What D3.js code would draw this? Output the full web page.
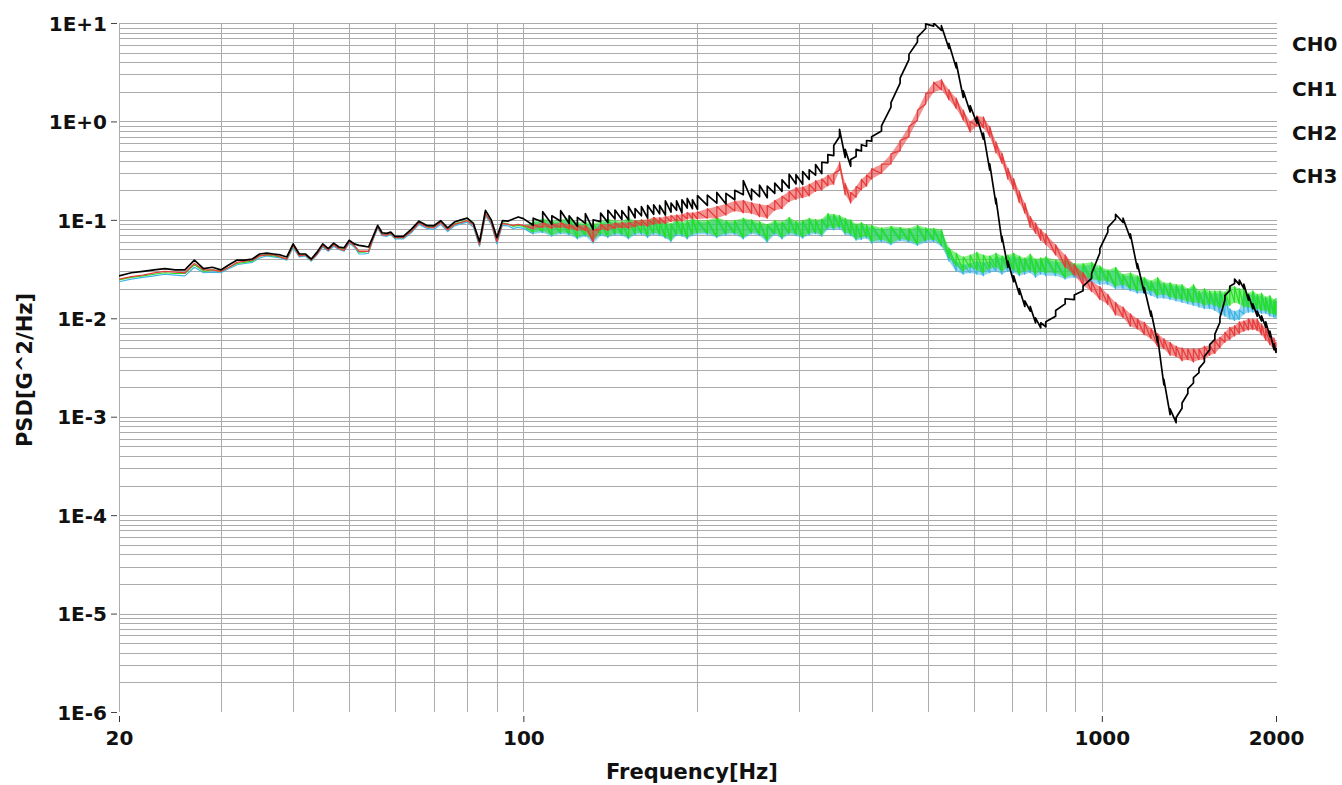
<!DOCTYPE html>
<html>
<head>
<meta charset="utf-8">
<script src="https://cdn.jsdelivr.net/npm/d3@7"></script>
<style>
  html, body { margin: 0; padding: 0; background: #ffffff; }
  svg { display: block; }
  text { font-family: "DejaVu Sans", Verdana, sans-serif; font-weight: bold; fill: #111; }
</style>
</head>
<body>
<svg id="chart" width="1342" height="785"></svg>
<script>
// Frequency bins [Hz] shared by all four channels
const freq = [
  20,21,22,23,24,25,26,27,28,29,30,31,32,33,34,35,36,37,38,39,40,41,42,43,44,45,46,47,48,49,50,51,52,53,54,55,56,57,58,59,60,
  62,64,66,68,70,72,74,76,78,80,82,84,86,88,90,92,94,96,98,100,
  104,108,112,116,120,124,128,132,136,140,144,148,152,156,160,164,168,172,176,180,184,188,192,196,200,
  208,216,224,232,240,248,256,264,272,280,288,296,304,312,320,328,336,344,352,360,368,376,384,392,400,
  416,432,448,464,480,496,512,528,544,560,576,592,608,624,640,656,672,688,704,720,736,752,768,784,800,
  832,864,896,928,960,992,1024,1056,1088,1120,1152,1184,1216,1248,1280,1312,1344,1376,1408,1440,1472,1504,1536,1568,1600,
  1632,1664,1696,1728,1760,1792,1824,1856,1888,1920,1952,1984,2000
];

// PSD [G^2/Hz] per bin: minimum and maximum of each channel within the bin
const ch0Lo = [
  .027,.029,.030,.031,.032,.031,.031,.039,.032,.033,.031,.035,.039,.039,.040,.045,.046,.045,.044,.042,.057,.045,.045,.040,.047,.057,.051,.058,.053,.052,.062,.057,.055,.054,.053,.068,.088,.074,.073,.075,.068,
  .068,.080,.097,.088,.087,.098,.083,.095,.100,.104,.092,.060,.125,.100,.066,.098,.097,.102,.107,.103,
  .088,.095,.090,.097,.092,.086,.092,.080,.096,.094,.102,.101,.100,.105,.110,.104,.114,.115,.112,.120,.125,.118,.132,.130,.128,
  .140,.148,.145,.160,.180,.160,.172,.168,.186,.195,.210,.232,.230,.258,.285,.295,.380,.450,.700,.430,.350,.440,.500,.560,.630,
  .80,1.40,2.45,4.25,6.40,8.80,9.30,8.40,5.50,3.50,1.75,1.25,.96,.66,.32,.145,.060,.033,.0235,.0175,.0132,.0118,.0090,.0080,.0082,
  .0105,.0140,.0155,.0190,.0255,.046,.075,.102,.094,.065,.032,.0182,.0105,.0057,.0021,.00105,.00087,.00122,.00172,.0022,.0028,.0036,.0048,.0061,.0091,
  .0153,.0192,.0225,.0220,.0200,.0153,.0125,.0105,.0094,.0081,.0065,.0048,.0045
];
const ch0Hi = [
  .027,.029,.030,.031,.032,.031,.031,.039,.032,.033,.031,.035,.039,.039,.040,.045,.046,.045,.044,.042,.057,.045,.045,.040,.047,.057,.051,.058,.053,.052,.062,.057,.055,.054,.053,.068,.088,.074,.073,.075,.068,
  .068,.080,.097,.088,.087,.098,.083,.095,.100,.104,.092,.060,.125,.100,.066,.098,.097,.102,.107,.103,
  .104,.121,.110,.124,.110,.106,.116,.100,.117,.125,.126,.124,.136,.130,.136,.140,.142,.140,.156,.148,.156,.160,.165,.160,.176,
  .178,.190,.186,.200,.250,.205,.225,.220,.236,.255,.290,.288,.310,.322,.365,.385,.460,.570,.830,.520,.410,.520,.580,.640,.700,
  .90,1.55,2.75,4.80,7.20,9.80,10.0,9.40,6.20,3.95,2.05,1.45,1.10,.76,.37,.165,.068,.038,.027,.020,.0150,.0132,.0101,.0090,.0092,
  .0120,.0158,.0172,.0212,.0285,.051,.084,.114,.104,.072,.036,.0204,.0118,.0065,.0024,.0012,.00098,.00138,.00192,.0025,.0031,.0041,.0054,.0069,.0102,
  .0170,.0212,.0250,.0245,.0222,.0172,.0140,.0118,.0106,.0092,.0074,.0055,.0050
];
const ch1Lo = [
  .025,.0265,.0275,.029,.030,.0295,.029,.036,.031,.031,.030,.033,.037,.038,.039,.043,.044,.044,.042,.040,.055,.043,.044,.039,.045,.055,.049,.056,.051,.049,.060,.055,.048,.048,.048,.065,.085,.071,.070,.073,.066,
  .066,.076,.093,.085,.083,.094,.079,.090,.094,.098,.088,.056,.115,.094,.060,.092,.090,.088,.090,.088,
  .081,.084,.082,.084,.081,.078,.078,.060,.080,.078,.082,.083,.082,.085,.088,.086,.090,.092,.092,.096,.097,.097,.102,.103,.102,
  .104,.104,.112,.123,.118,.116,.108,.104,.125,.130,.153,.162,.168,.175,.195,.200,.222,.230,.320,.180,.148,.170,.202,.220,.260,
  .296,.370,.505,.700,1.03,1.50,1.98,2.10,1.66,1.35,1.03,.78,.90,.86,.70,.48,.375,.26,.205,.150,.117,.084,.073,.062,.056,
  .044,.033,.0275,.0215,.0187,.0155,.0138,.0108,.0102,.0083,.0078,.0068,.0062,.0052,.0049,.0042,.0041,.0037,.0038,.0036,.0038,.0038,.0042,.0044,.0050,
  .0057,.0061,.0066,.0070,.0074,.0076,.0077,.0075,.0068,.0060,.0054,.0048,.0045
];
const ch1Hi = [
  .025,.0265,.0275,.029,.030,.0295,.029,.036,.031,.031,.030,.033,.037,.038,.039,.043,.044,.044,.042,.040,.055,.043,.044,.039,.045,.055,.049,.056,.051,.049,.060,.055,.048,.048,.048,.065,.085,.071,.070,.073,.066,
  .066,.076,.093,.085,.083,.094,.079,.090,.094,.098,.088,.056,.115,.094,.060,.092,.090,.088,.090,.088,
  .089,.094,.091,.094,.090,.088,.088,.078,.090,.090,.093,.094,.094,.098,.100,.101,.106,.105,.108,.111,.112,.114,.119,.118,.121,
  .130,.137,.145,.155,.158,.150,.144,.140,.158,.174,.195,.213,.216,.230,.250,.260,.285,.296,.385,.235,.190,.218,.258,.285,.330,
  .368,.468,.640,.890,1.30,1.92,2.50,2.66,2.10,1.72,1.30,1.00,1.14,1.11,.89,.62,.475,.335,.262,.195,.148,.108,.093,.080,.072,
  .056,.044,.035,.029,.0236,.021,.0175,.0145,.0130,.0111,.0099,.0091,.0079,.0070,.0062,.0057,.0052,.0050,.0049,.0049,.0049,.0052,.0053,.0060,.0064,
  .0072,.0081,.0084,.0092,.0094,.0099,.0098,.0098,.0087,.0080,.0069,.0063,.0057
];
const ch2Lo = [
  .0235,.025,.026,.027,.028,.0275,.027,.033,.029,.0295,.029,.032,.035,.036,.037,.041,.043,.042,.041,.039,.052,.042,.043,.038,.044,.053,.048,.054,.050,.048,.058,.053,.045,.045,.046,.063,.082,.069,.068,.071,.064,
  .064,.074,.090,.082,.080,.090,.076,.087,.091,.095,.084,.054,.110,.090,.057,.088,.087,.082,.084,.082,
  .072,.074,.068,.072,.070,.064,.068,.058,.069,.066,.070,.069,.064,.070,.071,.066,.071,.069,.065,.060,.069,.068,.064,.069,.071,
  .071,.066,.070,.071,.064,.072,.069,.059,.071,.064,.071,.069,.065,.070,.072,.068,.080,.079,.081,.071,.069,.062,.063,.065,.058,
  .060,.056,.061,.059,.055,.059,.060,.054,.038,.030,.028,.029,.028,.027,.029,.030,.028,.030,.029,.027,.028,.029,.026,.028,.027,
  .027,.025,.026,.024,.023,.022,.022,.020,.020,.019,.018,.018,.017,.016,.016,.0155,.015,.0145,.014,.0135,.013,.0125,.0125,.012,.011,
  .0105,.0098,.0095,.0097,.011,.0115,.0115,.0115,.0112,.0112,.0105,.0102,.0102
];
const ch2Hi = [
  .0235,.025,.026,.027,.028,.0275,.027,.033,.029,.0295,.029,.032,.035,.036,.037,.041,.043,.042,.041,.039,.052,.042,.043,.038,.044,.053,.048,.054,.050,.048,.058,.053,.045,.045,.046,.063,.082,.069,.068,.071,.064,
  .064,.074,.090,.082,.080,.090,.076,.087,.091,.095,.084,.054,.110,.090,.057,.088,.087,.082,.084,.082,
  .092,.099,.094,.096,.101,.090,.091,.088,.092,.098,.094,.093,.100,.094,.096,.094,.101,.094,.093,.088,.098,.092,.094,.099,.095,
  .095,.101,.094,.095,.099,.096,.092,.086,.095,.092,.101,.093,.095,.099,.097,.098,.111,.110,.107,.100,.096,.087,.090,.085,.084,
  .080,.082,.081,.079,.084,.080,.079,.077,.049,.038,.035,.036,.038,.037,.038,.042,.041,.042,.043,.041,.039,.042,.038,.039,.040,
  .037,.038,.035,.034,.035,.032,.030,.031,.027,.027,.026,.025,.023,.024,.022,.022,.021,.021,.019,.021,.018,.019,.018,.018,.018,
  .0175,.0125,.0118,.0122,.019,.017,.018,.0165,.017,.0158,.016,.0148,.015
];
const ch3Lo = [
  .0245,.026,.027,.028,.029,.0285,.0285,.035,.030,.031,.030,.033,.036,.037,.038,.043,.044,.043,.042,.040,.054,.044,.044,.039,.046,.055,.050,.056,.052,.050,.060,.055,.047,.047,.048,.066,.086,.072,.071,.073,.066,
  .066,.077,.094,.086,.084,.095,.080,.091,.095,.099,.089,.057,.116,.095,.061,.093,.091,.086,.088,.086,
  .075,.077,.070,.075,.073,.066,.071,.062,.072,.068,.073,.072,.066,.073,.074,.069,.074,.072,.067,.062,.072,.071,.066,.072,.074,
  .074,.068,.073,.074,.066,.075,.072,.062,.074,.066,.074,.072,.067,.073,.075,.070,.084,.082,.085,.074,.072,.064,.066,.068,.060,
  .063,.058,.064,.062,.057,.062,.063,.056,.041,.034,.030,.033,.031,.029,.032,.033,.030,.033,.031,.028,.030,.031,.028,.030,.029,
  .029,.026,.028,.026,.025,.024,.024,.021,.022,.020,.019,.019,.019,.017,.0175,.0165,.0158,.0155,.0148,.0145,.0145,.0135,.014,.0135,.0128,
  .0135,.0135,.0145,.014,.013,.013,.0125,.0125,.012,.012,.0112,.011,.0108
];
const ch3Hi = [
  .0245,.026,.027,.028,.029,.0285,.0285,.035,.030,.031,.030,.033,.036,.037,.038,.043,.044,.043,.042,.040,.054,.044,.044,.039,.046,.055,.050,.056,.052,.050,.060,.055,.047,.047,.048,.066,.086,.072,.071,.073,.066,
  .066,.077,.094,.086,.084,.095,.080,.091,.095,.099,.089,.057,.116,.095,.061,.093,.091,.086,.088,.086,
  .096,.104,.098,.100,.106,.094,.095,.092,.096,.103,.098,.097,.105,.098,.100,.098,.106,.098,.097,.092,.103,.096,.098,.104,.099,
  .099,.106,.098,.099,.104,.100,.096,.090,.099,.096,.106,.097,.099,.104,.101,.102,.116,.114,.111,.104,.100,.091,.094,.089,.088,
  .083,.086,.084,.082,.088,.083,.082,.080,.052,.046,.042,.044,.047,.044,.043,.046,.043,.044,.046,.043,.041,.045,.040,.041,.042,
  .039,.040,.036,.036,.037,.034,.031,.033,.028,.029,.027,.026,.024,.026,.023,.023,.022,.022,.020,.022,.019,.020,.019,.019,.019,
  .0185,.021,.021,.020,.020,.018,.019,.0175,.018,.0165,.017,.0155,.016
];

const channelNames = ["CH0", "CH1", "CH2", "CH3"];
const channelColors = ["#000000", "#e83c3c", "#3cb4e6", "#22e022"];
const channelLo = [ch0Lo, ch1Lo, ch2Lo, ch3Lo];
const channelHi = [ch0Hi, ch1Hi, ch2Hi, ch3Hi];
const channelWidth = [1.7, 1.3, 1.2, 1.2];
const channelFill = [0, 0.55, 0.55, 0.55];
const drawOrder = [2, 3, 1, 0];

const yTickValues = [1e1, 1e0, 1e-1, 1e-2, 1e-3, 1e-4, 1e-5, 1e-6];
const yTickLabels = ["1E+1", "1E+0", "1E-1", "1E-2", "1E-3", "1E-4", "1E-5", "1E-6"];
const xTickValues = [20, 100, 1000, 2000];
const xTickLabels = ["20", "100", "1000", "2000"];

const svg = d3.select("#chart");
const plot = { left: 119, right: 1276, top: 23, bottom: 712 };

const x = d3.scaleLog().domain([20, 2000]).range([plot.left, plot.right]);
const y = d3.scaleLog().domain([1e-6, 1e1]).range([plot.bottom, plot.top]);
const crisp = v => Math.round(v) + 0.5;

// Grid
const gridColor = "#ababab";
const grid = svg.append("g").attr("shape-rendering", "crispEdges");
const yGrid = y.ticks().filter(d => d > 1.5e-6);
grid.selectAll("line.h").data(yGrid).join("line")
  .attr("class", "h")
  .attr("x1", plot.left).attr("x2", plot.right + 1)
  .attr("y1", d => crisp(y(d))).attr("y2", d => crisp(y(d)))
  .attr("stroke", gridColor).attr("stroke-width", 1);
const xGrid = x.ticks().filter(d => d < 1500);
grid.selectAll("line.v").data(xGrid).join("line")
  .attr("class", "v")
  .attr("y1", plot.top).attr("y2", plot.bottom)
  .attr("x1", d => crisp(x(d))).attr("x2", d => crisp(x(d)))
  .attr("stroke", gridColor).attr("stroke-width", 1);

// Traces: each bin drawn from its minimum to its maximum, so the noise of the
// measured spectrum shows as a ragged band
svg.append("defs").append("clipPath").attr("id", "plotClip")
  .append("rect")
  .attr("x", plot.left).attr("y", plot.top)
  .attr("width", plot.right - plot.left + 1).attr("height", plot.bottom - plot.top);

const band = d3.area()
  .x(d => x(d.f))
  .y0(d => y(d.lo))
  .y1(d => y(d.hi));
const trace = d3.line()
  .x(d => x(d[0]))
  .y(d => y(d[1]));

const curves = svg.append("g").attr("clip-path", "url(#plotClip)");
drawOrder.forEach(i => {
  const bins = freq.map((f, k) => ({ f, lo: channelLo[i][k], hi: channelHi[i][k] }));
  if (channelFill[i] > 0) {
    curves.append("path")
      .datum(bins)
      .attr("d", band)
      .attr("fill", channelColors[i])
      .attr("fill-opacity", channelFill[i])
      .attr("stroke", "none");
  }
  const pts = bins.flatMap(b => [[b.f, b.lo], [b.f, b.hi]]);
  curves.append("path")
    .datum(pts)
    .attr("d", trace)
    .attr("fill", "none")
    .attr("stroke", channelColors[i])
    .attr("stroke-width", channelWidth[i])
    .attr("stroke-linejoin", "round");
});

// Y axis
const yAxis = d3.axisLeft(y)
  .tickValues(yTickValues)
  .tickFormat((d, i) => yTickLabels[i])
  .tickSize(6)
  .tickPadding(4);
const gy = svg.append("g").attr("transform", "translate(117,0)").call(yAxis);
gy.select(".domain").remove();
gy.selectAll(".tick line").attr("stroke", "#444");
gy.selectAll(".tick text")
  .attr("dy", "0.36em")
  .style("font-size", "20px")
  .style("font-family", "'DejaVu Sans', Verdana, sans-serif")
  .style("font-weight", "bold")
  .attr("fill", "#111");

// X axis
const xAxis = d3.axisBottom(x)
  .tickValues(xTickValues)
  .tickFormat((d, i) => xTickLabels[i])
  .tickSize(6)
  .tickPadding(9);
const gx = svg.append("g").attr("transform", "translate(0,716)").call(xAxis);
gx.select(".domain").remove();
gx.selectAll(".tick line").attr("stroke", "#333");
gx.selectAll(".tick text")
  .style("font-size", "20px")
  .style("font-family", "'DejaVu Sans', Verdana, sans-serif")
  .style("font-weight", "bold")
  .attr("fill", "#111");

// Axis titles
svg.append("text")
  .attr("x", 692).attr("y", 779)
  .attr("text-anchor", "middle")
  .style("font-size", "21px")
  .text("Frequency[Hz]");
svg.append("text")
  .attr("transform", "translate(32,370) rotate(-90)")
  .attr("text-anchor", "middle")
  .style("font-size", "21px")
  .text("PSD[G^2/Hz]");

// Channel legend
const legendY = [44, 89, 133, 176];
svg.append("g").selectAll("text").data(channelNames).join("text")
  .attr("x", 1292)
  .attr("y", (d, i) => legendY[i] + 7)
  .style("font-size", "20px")
  .text(d => d);
</script>
</body>
</html>
